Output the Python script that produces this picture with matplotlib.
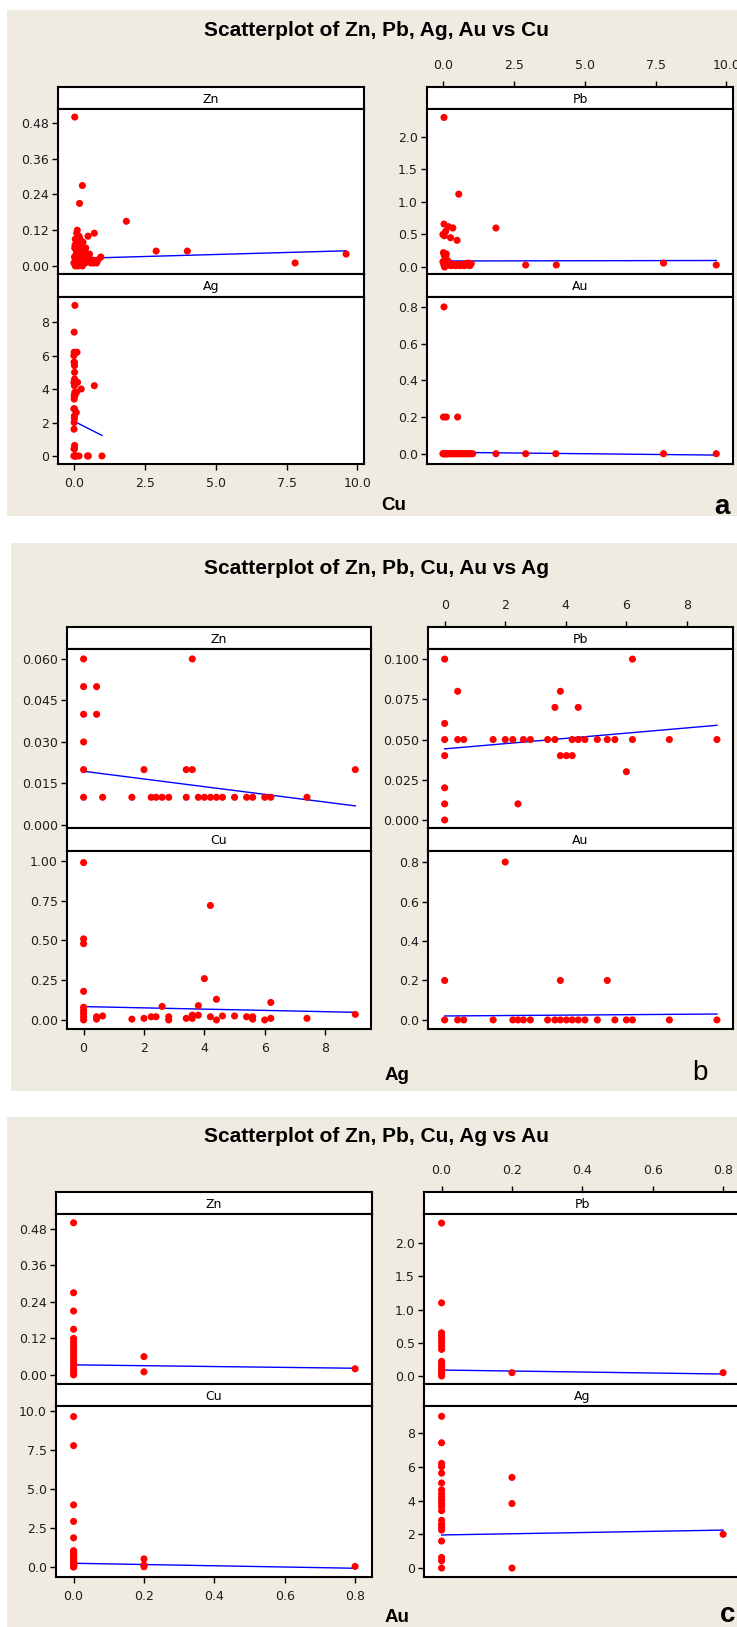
import matplotlib
matplotlib.use("Agg")
import matplotlib.pyplot as plt
from matplotlib.patches import Rectangle
from matplotlib.ticker import FormatStrFormatter

plt.rcParams['font.family'] = ['DejaVu Sans']

# Assay pairs, (x element, y element) in %
cu_zn = [(0.03, 0.50), (0.30, 0.27), (0.20, 0.21), (1.85, 0.15), (2.90, 0.05), (4.00, 0.05),
         (7.80, 0.01), (9.60, 0.04), (0.12, 0.12), (0.50, 0.10), (0.72, 0.11), (0.95, 0.03),
         (0.00, 0.01), (0.02, 0.03), (0.03, 0.06), (0.05, 0.09), (0.06, 0.02), (0.08, 0.04),
         (0.08, 0.07), (0.10, 0.01), (0.10, 0.05), (0.12, 0.08), (0.14, 0.03), (0.15, 0.06),
         (0.18, 0.02), (0.18, 0.10), (0.20, 0.04), (0.22, 0.07), (0.25, 0.01), (0.25, 0.05),
         (0.28, 0.03), (0.30, 0.00), (0.32, 0.08), (0.35, 0.02), (0.38, 0.05), (0.40, 0.01),
         (0.42, 0.06), (0.45, 0.03), (0.50, 0.02), (0.55, 0.04), (0.60, 0.01), (0.65, 0.02),
         (0.70, 0.01), (0.80, 0.01), (0.85, 0.02), (0.05, 0.00), (0.15, 0.00), (0.10, 0.11),
         (0.22, 0.09), (0.04, 0.07)]

cu_pb = [(0.04, 2.30), (0.56, 1.12), (1.87, 0.60), (2.92, 0.03), (4.00, 0.03), (7.78, 0.06),
         (9.64, 0.03), (1.00, 0.05), (0.04, 0.66), (0.00, 0.50), (0.35, 0.60), (0.27, 0.45),
         (0.50, 0.41), (0.10, 0.55), (0.20, 0.62), (0.05, 0.48), (0.02, 0.22), (0.05, 0.18),
         (0.08, 0.12), (0.10, 0.15), (0.00, 0.08), (0.03, 0.04), (0.06, 0.00), (0.10, 0.02),
         (0.15, 0.06), (0.20, 0.03), (0.25, 0.05), (0.30, 0.02), (0.35, 0.04), (0.40, 0.03),
         (0.45, 0.02), (0.50, 0.04), (0.55, 0.03), (0.60, 0.02), (0.65, 0.04), (0.70, 0.03),
         (0.80, 0.05), (0.90, 0.06), (0.15, 0.10), (0.12, 0.20), (0.20, 0.08), (0.75, 0.02),
         (0.85, 0.03), (0.95, 0.02)]

cu_ag = [(0.99, 0.0), (0.51, 0.0), (0.48, 0.0), (0.18, 0.0), (0.08, 0.0), (0.06, 0.0),
         (0.04, 0.0), (0.02, 0.0), (0.00, 0.0), (0.02, 0.43), (0.005, 0.43), (0.025, 0.63),
         (0.005, 1.6), (0.01, 2.0), (0.02, 2.24), (0.02, 2.4), (0.085, 2.6), (0.02, 2.82),
         (0.00, 2.82), (0.01, 3.4), (0.01, 3.6), (0.03, 3.6), (0.09, 3.8), (0.03, 3.8),
         (0.26, 4.0), (0.72, 4.2), (0.02, 4.2), (0.13, 4.4), (0.00, 4.4), (0.025, 4.6),
         (0.025, 5.0), (0.02, 5.4), (0.02, 5.6), (0.005, 5.6), (0.00, 6.0), (0.11, 6.2),
         (0.01, 6.2), (0.01, 7.4), (0.035, 9.0)]

cu_au = [(0.04, 0.8), (0.02, 0.2), (0.12, 0.2), (0.52, 0.2), (9.64, 0.0), (7.78, 0.0),
         (3.98, 0.0), (2.92, 0.0), (1.87, 0.0), (0.00, 0.0), (0.02, 0.0), (0.04, 0.0),
         (0.06, 0.0), (0.08, 0.0), (0.10, 0.0), (0.12, 0.0), (0.15, 0.0), (0.18, 0.0),
         (0.20, 0.0), (0.25, 0.0), (0.30, 0.0), (0.35, 0.0), (0.40, 0.0), (0.45, 0.0),
         (0.50, 0.0), (0.55, 0.0), (0.60, 0.0), (0.65, 0.0), (0.70, 0.0), (0.75, 0.0),
         (0.80, 0.0), (0.85, 0.0), (0.90, 0.0), (0.95, 0.0), (1.00, 0.0), (1.05, 0.0)]

ag_zn = [(0.0, 0.060), (3.6, 0.060), (0.0, 0.050), (0.43, 0.050), (0.0, 0.040), (0.43, 0.040),
         (0.0, 0.030), (0.0, 0.020), (2.0, 0.020), (3.4, 0.020), (3.6, 0.020), (9.0, 0.020),
         (0.0, 0.010), (0.63, 0.010), (1.6, 0.010), (2.24, 0.010), (2.4, 0.010), (2.6, 0.010),
         (2.82, 0.010), (3.4, 0.010), (3.8, 0.010), (4.0, 0.010), (4.2, 0.010), (4.4, 0.010),
         (4.6, 0.010), (5.0, 0.010), (5.4, 0.010), (5.6, 0.010), (6.0, 0.010), (6.2, 0.010),
         (7.4, 0.010)]

ag_pb = [(0.0, 0.100), (0.0, 0.060), (0.0, 0.050), (0.0, 0.040), (0.0, 0.020), (0.0, 0.010),
         (0.0, 0.000), (0.43, 0.080), (0.43, 0.050), (0.63, 0.050), (1.6, 0.050), (2.0, 0.050),
         (2.25, 0.050), (2.42, 0.010), (2.6, 0.050), (2.83, 0.050), (3.4, 0.050), (3.64, 0.070),
         (3.64, 0.050), (3.82, 0.080), (3.82, 0.040), (4.02, 0.040), (4.21, 0.050), (4.21, 0.040),
         (4.41, 0.070), (4.41, 0.050), (4.63, 0.050), (5.04, 0.050), (5.37, 0.050), (5.62, 0.050),
         (6.0, 0.030), (6.2, 0.100), (6.2, 0.050), (7.42, 0.050), (8.99, 0.050)]

ag_au = [(2.0, 0.8), (0.0, 0.2), (3.82, 0.2), (5.37, 0.2), (0.0, 0.0), (0.43, 0.0), (0.63, 0.0),
         (1.6, 0.0), (2.25, 0.0), (2.42, 0.0), (2.6, 0.0), (2.83, 0.0), (3.4, 0.0), (3.64, 0.0),
         (3.82, 0.0), (4.02, 0.0), (4.21, 0.0), (4.41, 0.0), (4.63, 0.0), (5.04, 0.0),
         (5.62, 0.0), (6.0, 0.0), (6.2, 0.0), (7.42, 0.0), (8.99, 0.0)]

au_zn = [(0.0, 0.50), (0.0, 0.27), (0.0, 0.21), (0.0, 0.15), (0.0, 0.12), (0.0, 0.11),
         (0.0, 0.10), (0.0, 0.09), (0.0, 0.08), (0.0, 0.07), (0.0, 0.06), (0.0, 0.05),
         (0.0, 0.04), (0.0, 0.03), (0.0, 0.02), (0.0, 0.01), (0.0, 0.00), (0.2, 0.06),
         (0.2, 0.01), (0.8, 0.02)]

au_pb = [(0.0, 2.30), (0.0, 1.10), (0.0, 0.65), (0.0, 0.60), (0.0, 0.55), (0.0, 0.50),
         (0.0, 0.45), (0.0, 0.40), (0.0, 0.22), (0.0, 0.18), (0.0, 0.14), (0.0, 0.10),
         (0.0, 0.06), (0.0, 0.03), (0.0, 0.00), (0.2, 0.05), (0.8, 0.05)]

# fitted regression lines (intercept, slope) per cell
fits_cu = [(0.025, 0.0027), (0.092, 0.0008), (2.08, -0.86), (0.008, -0.0016)]
fits_ag = [(0.0194, -0.00139), (0.0442, 0.00163), (0.084, -0.004), (0.020, 0.0011)]
fits_au = [(0.033, -0.014), (0.090, -0.075), (0.24, -0.40), (1.96, 0.36)]

W, H = 737, 1627
BEIGE = '#efebe1'
TICK_FS = 9

fig = plt.figure(figsize=(W / 100, H / 100), dpi=100)
fig.patch.set_facecolor('white')


def rect(x0, y0, x1, y1):
    # pixel box (y measured from the top) -> figure fraction
    return [x0 / W, 1 - y1 / H, (x1 - x0) / W, (y1 - y0) / H]


def fxy(x, y):
    return x / W, 1 - y / H


def flip(pairs):
    return [(b, a) for a, b in pairs]


def style_ticks(ax):
    ax.tick_params(axis='both', direction='out', length=4.5, width=1,
                   labelsize=TICK_FS, colors='black', labelcolor='#1e1e1e')
    ax.tick_params(axis='y', pad=2)
    ax.tick_params(axis='x', pad=5)
    for s in ax.spines.values():
        s.set_linewidth(1.5)


def draw_cell(x0, x1, top, mid, bot, name, pts, fit, xlim, ylim, yticks, yfmt):
    strip = fig.add_axes(rect(x0, top, x1, mid))
    strip.set_xlim(xlim)
    strip.set_xticks([])
    strip.set_yticks([])
    strip.set_facecolor('white')
    strip.text(0.5, 0.45, name, transform=strip.transAxes, ha='center', va='center',
               fontsize=TICK_FS)
    style_ticks(strip)

    ax = fig.add_axes(rect(x0, mid, x1, bot))
    xs, ys = zip(*pts)
    ax.scatter(xs, ys, s=26, color='#ff0000', edgecolors='none', zorder=3)
    b, m = fit
    lo, hi = min(xs), max(xs)
    ax.plot([lo, hi], [b + m * lo, b + m * hi], color='#0000ff', lw=1.0, zorder=2)
    ax.set_xlim(xlim)
    ax.set_ylim(ylim)
    ax.set_xticks([])
    ax.set_yticks(yticks)
    ax.yaxis.set_major_formatter(FormatStrFormatter(yfmt))
    ax.set_facecolor('white')
    style_ticks(ax)
    return strip, ax


def draw_panel(box, title, title_y, cols, rows, cells, xlim, xticks, xfmt,
               xlabel, xlabel_pos, tag, tag_pos, tag_weight):
    bx0, by0, bx1, by1 = box
    fig.add_artist(Rectangle(fxy(bx0, by1), (bx1 - bx0) / W, (by1 - by0) / H,
                             transform=fig.transFigure, facecolor=BEIGE,
                             edgecolor='none', zorder=-10))
    fig.text(*fxy(377, title_y), title, ha='center', va='center', fontsize=15,
             fontweight='bold', family='Liberation Sans')

    axes = {}
    for i, (name, pts, fit, ylim, yticks, yfmt) in enumerate(cells):
        r, c = divmod(i, 2)
        top, mid, bot = rows[r]
        x0, x1 = cols[c]
        axes[(r, c)] = draw_cell(x0, x1, top, mid, bot, name, pts, fit, xlim, ylim,
                                 yticks, yfmt)

    # shared x scale: labels under the lower left cell, above the upper right one
    low_left = axes[(1, 0)][1]
    low_left.set_xticks(xticks)
    low_left.xaxis.set_major_formatter(FormatStrFormatter(xfmt))
    top_right = axes[(0, 1)][0]
    top_right.xaxis.tick_top()
    top_right.set_xticks(xticks)
    top_right.xaxis.set_major_formatter(FormatStrFormatter(xfmt))
    top_right.tick_params(axis='x', pad=6)

    fig.text(*fxy(*xlabel_pos), xlabel, ha='center', va='center', fontsize=13.5,
             fontweight='bold', family='Liberation Sans')
    fig.text(*fxy(*tag_pos), tag, ha='center', va='center', fontsize=20,
             fontweight=tag_weight, family='Liberation Sans')


# a: Zn, Pb, Ag, Au vs Cu
draw_panel(
    (7, 10, 737, 516), 'Scatterplot of Zn, Pb, Ag, Au vs Cu', 30,
    [(58, 364), (427, 733)],
    [(87, 109, 274), (274, 297, 464)],
    [('Zn', cu_zn, fits_cu[0], (-0.027, 0.527), [0, 0.12, 0.24, 0.36, 0.48], '%.2f'),
     ('Pb', cu_pb, fits_cu[1], (-0.108, 2.43), [0, 0.5, 1.0, 1.5, 2.0], '%.1f'),
     ('Ag', cu_ag, fits_cu[2], (-0.48, 9.5), [0, 2, 4, 6, 8], '%d'),
     ('Au', cu_au, fits_cu[3], (-0.056, 0.854), [0, 0.2, 0.4, 0.6, 0.8], '%.1f')],
    (-0.56, 10.23), [0, 2.5, 5.0, 7.5, 10.0], '%.1f',
    'Cu', (394, 506), 'a', (722, 507), 'bold')

# b: Zn, Pb, Cu, Au vs Ag
draw_panel(
    (11, 543, 737, 1091), 'Scatterplot of Zn, Pb, Cu, Au vs Ag', 569,
    [(67, 371), (428, 733)],
    [(627, 649, 828), (828, 851, 1029)],
    [('Zn', ag_zn, fits_ag[0], (-0.0011, 0.0636), [0, 0.015, 0.03, 0.045, 0.06], '%.3f'),
     ('Pb', ag_pb, fits_ag[1], (-0.005, 0.1063), [0, 0.025, 0.05, 0.075, 0.1], '%.3f'),
     ('Cu', flip(cu_ag), fits_ag[2], (-0.057, 1.063), [0, 0.25, 0.5, 0.75, 1.0], '%.2f'),
     ('Au', ag_au, fits_ag[3], (-0.046, 0.856), [0, 0.2, 0.4, 0.6, 0.8], '%.1f')],
    (-0.55, 9.52), [0, 2, 4, 6, 8], '%d',
    'Ag', (397, 1076), 'b', (700, 1073), 'normal')

# c: Zn, Pb, Cu, Ag vs Au
draw_panel(
    (7, 1117, 737, 1627), 'Scatterplot of Zn, Pb, Cu, Ag vs Au', 1137,
    [(56, 372), (424, 740)],
    [(1192, 1214, 1384), (1384, 1406, 1577)],
    [('Zn', au_zn, fits_au[0], (-0.030, 0.529), [0, 0.12, 0.24, 0.36, 0.48], '%.2f'),
     ('Pb', au_pb, fits_au[1], (-0.12, 2.436), [0, 0.5, 1.0, 1.5, 2.0], '%.1f'),
     ('Cu', flip(cu_au), fits_au[2], (-0.64, 10.32), [0, 2.5, 5.0, 7.5, 10.0], '%.1f'),
     ('Ag', flip(ag_au), fits_au[3], (-0.53, 9.6), [0, 2, 4, 6, 8], '%d')],
    (-0.05, 0.848), [0, 0.2, 0.4, 0.6, 0.8], '%.1f',
    'Au', (397, 1618), 'c', (728, 1615), 'bold')

fig.savefig('out.png', dpi=100, facecolor=fig.get_facecolor())
